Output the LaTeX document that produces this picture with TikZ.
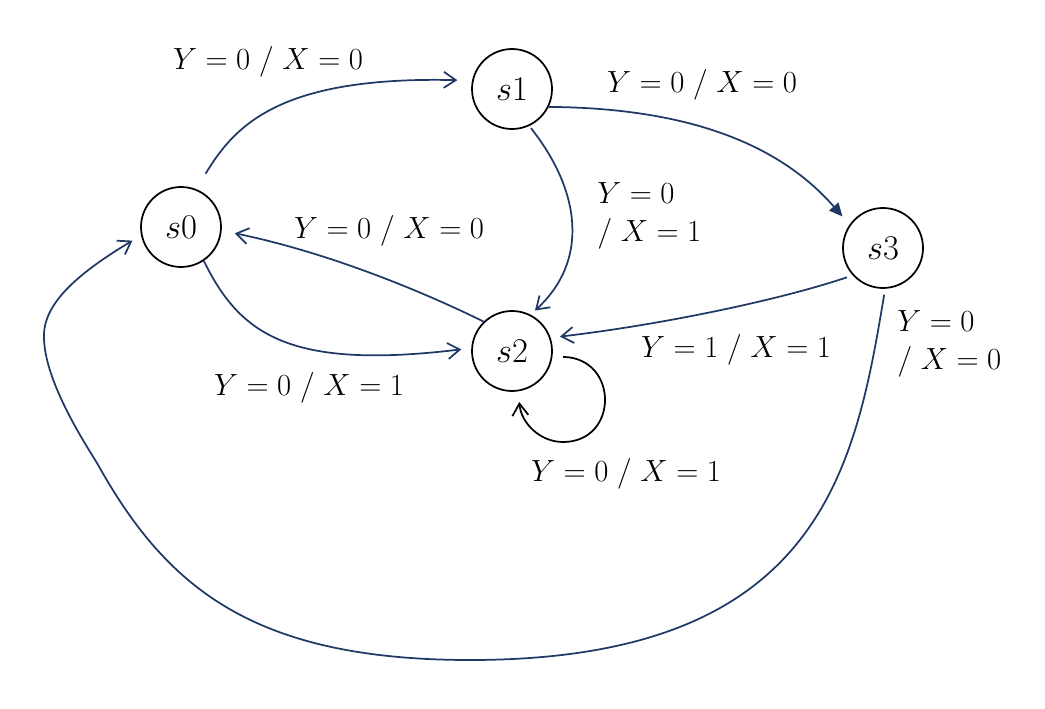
\RequirePackage{fix-cm}
\documentclass[tikz,border=0pt]{standalone}
\usetikzlibrary{arrows.meta}
\definecolor{navy}{HTML}{203864}
\begin{document}
\begin{tikzpicture}[x=0.75pt,y=-0.75pt,
  state/.style={circle,draw,line width=1.3pt,minimum size=60pt,inner sep=0pt,font=\fontsize{26}{30}\selectfont},
  edge/.style={navy,line width=1.3pt,-{Straight Barb[length=9pt,width=12pt,line width=1.3pt]}},
  fedge/.style={navy,line width=1.3pt,-{Triangle[length=10pt,width=9pt]}},
  loopedge/.style={black,line width=1.3pt,-{Straight Barb[length=9pt,width=12pt,line width=1.3pt]}},
  lbl/.style={font=\fontsize{23}{29}\selectfont,inner sep=0pt}]
\useasboundingbox (0,0) rectangle (1045,709);
\node[state] (s0) at (181,227) {$s0$};
\node[state] (s1) at (512,89) {$s1$};
\node[state] (s2) at (512,351) {$s2$};
\node[state] (s3) at (883,248) {$s3$};
% edges
\draw[edge,shorten <=13.5pt,shorten >=11pt] (s0.68) .. controls (235,125) and (280,76) .. (s1.168);
\draw[fedge,shorten >=8pt] (s1.-26) .. controls (690,108) and (780,145) .. (s3.145);
\draw[edge,shorten <=2pt,shorten >=4.5pt] (s1.-65) .. controls (580,190) and (590,260) .. (s2.63);
\draw[edge,shorten >=10pt] (s2.134) .. controls (440,300) and (340,255) .. (s0.-5);
\draw[edge,shorten >=7.5pt] (s0.-56) .. controls (240,335) and (290,370) .. (s2.176);
\draw[edge,shorten <=4.5pt,shorten >=7pt] (s3.222) .. controls (780,300) and (660,325) .. (s2.19);
\draw[loopedge,shorten <=8pt,shorten >=8pt] (s2.-8) .. controls (619,358) and (619,442) .. (563,442) .. controls (540,442) and (521,423) .. (s2.-81);
\draw[edge,shorten <=4.5pt,shorten >=7.5pt] (s3.-87) .. controls (855,470) and (820,660) .. (470,660)
  .. controls (250,660) and (165,585) .. (97,463)
  .. controls (84,442) and (44,380) .. (44,337)
  .. controls (43,305) and (75,275) .. (s0.192);
% labels
\node[lbl] (l1) at (268,62) {$Y=0\;/\;X=0$};
\node[lbl] (l2) at (702,85) {$Y=0\;/\;X=0$};
\node[lbl,align=left,anchor=west] (l3) at (597,216) {$Y=0$\\$/\;X=1$};
\node[lbl] (l4) at (389,231) {$Y=0\;/\;X=0$};
\node[lbl] (l5) at (309,388) {$Y=0\;/\;X=1$};
\node[lbl] (l6) at (736,350) {$Y=1\;/\;X=1$};
\node[lbl] (l7) at (626,474) {$Y=0\;/\;X=1$};
\node[lbl,align=left,anchor=west] (l8) at (897,344) {$Y=0$\\$/\;X=0$};
\end{tikzpicture}
\end{document}
